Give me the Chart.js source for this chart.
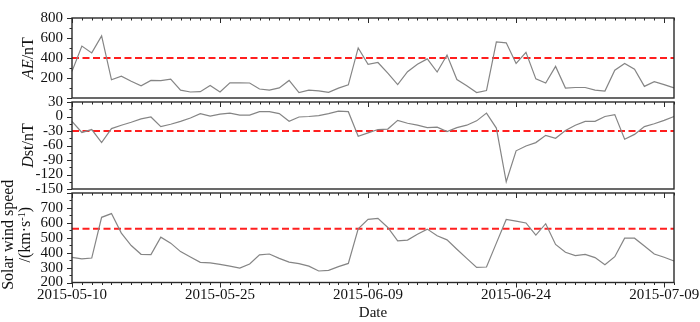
<!DOCTYPE html>
<html>
<head>
<meta charset="utf-8">
<script src="https://cdn.jsdelivr.net/npm/chart.js@4.4.0/dist/chart.umd.min.js"></script>
<style>
  html, body { margin: 0; padding: 0; background: #fff; }
  #wrap { position: relative; width: 700px; height: 322px; }
  canvas { position: absolute; left: 0; top: 0; }
</style>
</head>
<body>
<div id="wrap">
  <canvas id="c1" width="700" height="322"></canvas>
  <canvas id="c2" width="700" height="322"></canvas>
  <canvas id="c3" width="700" height="322"></canvas>
</div>
<script>
// ---------------- DATA ----------------
const dates = [
  '2015-05-10','2015-05-11','2015-05-12','2015-05-13','2015-05-14','2015-05-15','2015-05-16','2015-05-17',
  '2015-05-18','2015-05-19','2015-05-20','2015-05-21','2015-05-22','2015-05-23','2015-05-24','2015-05-25',
  '2015-05-26','2015-05-27','2015-05-28','2015-05-29','2015-05-30','2015-05-31',
  '2015-06-01','2015-06-02','2015-06-03','2015-06-04','2015-06-05','2015-06-06','2015-06-07','2015-06-08',
  '2015-06-09','2015-06-10','2015-06-11','2015-06-12','2015-06-13','2015-06-14','2015-06-15','2015-06-16',
  '2015-06-17','2015-06-18','2015-06-19','2015-06-20','2015-06-21','2015-06-22','2015-06-23','2015-06-24',
  '2015-06-25','2015-06-26','2015-06-27','2015-06-28','2015-06-29','2015-06-30',
  '2015-07-01','2015-07-02','2015-07-03','2015-07-04','2015-07-05','2015-07-06','2015-07-07','2015-07-08',
  '2015-07-09','2015-07-10'
];
const xTickLabels = ['2015-05-10','2015-05-25','2015-06-09','2015-06-24','2015-07-09'];

const aeValues = [266,519,451,621,182,218,167,122,176,173,188,78,60,63,125,60,152,152,150,90,78,101,176,54,78,72,57,99,131,501,
  337,355,248,134,263,337,391,260,430,185,122,54,75,561,552,346,457,191,149,316,99,105,105,78,69,278,346,287,116,164,134,101];
const dstValues = [-10,-33,-27,-54,-25,-18,-12,-5,-1,-21,-16,-10,-3,6,1,5,7,3,3,10,10,6,-10,-1,0,2,6,11,10,-41,
  -34,-27,-26,-8,-14,-18,-23,-22,-31,-23,-18,-9,7,-24,-135,-71,-61,-54,-39,-45,-29,-18,-10,-10,0,4,-47,-37,-21,-15,-8,0];
const windValues = [369,358,364,637,662,531,448,389,387,504,464,407,371,335,331,322,310,297,324,385,391,362,337,326,310,277,281,306,328,560,
  623,630,569,479,484,524,558,513,486,423,362,301,304,464,623,612,599,518,594,455,403,380,389,367,319,373,497,497,445,391,369,344];

const aeThreshold = 400;
const dstThreshold = -30;
const windThreshold = 560;

const aeTicks = [200, 400, 600, 800];
const dstTicks = [30, 0, -30, -60, -90, -120, -150];
const windTicks = [200, 300, 400, 500, 600, 700];

// ---------------- STYLE ----------------
const FONT = '"Liberation Serif", "Times New Roman", serif';
const LINE_COLOR = '#858585';
const RED = '#ff1f1f';
const FRAME = '#2a2a2a';

const decoPlugin = {
  id: 'deco',
  afterDraw(chart, args, o) {
    const ctx = chart.ctx;
    const { left, right, top, bottom } = chart.chartArea;
    const xs = chart.scales.x, ys = chart.scales.y;
    ctx.save();
    ctx.strokeStyle = FRAME;
    ctx.lineWidth = 1;
    ctx.beginPath();
    for (let i = 0; i < dates.length; i++) {
      const px = Math.round(xs.getPixelForValue(i)) + 0.5;
      const len = (xTickLabels.indexOf(dates[i]) >= 0) ? 5 : 2.5;
      ctx.moveTo(px, top);
      ctx.lineTo(px, top + len);
      if (o.bottomTicks) {
        ctx.moveTo(px, bottom);
        ctx.lineTo(px, bottom + len);
      }
    }
    for (let v = o.min; v <= o.max + 1e-9; v += o.minor) {
      const py = Math.round(ys.getPixelForValue(v)) + 0.5;
      const major = Math.abs(v % o.major) < 1e-6;
      ctx.moveTo(left, py);
      ctx.lineTo(left - (major ? 5 : 2.5), py);
    }
    ctx.stroke();
    ctx.lineWidth = 1.4;
    ctx.strokeRect(left, top, right - left, bottom - top);
    const yc = (top + bottom) / 2 + (o.titleDy || 0);
    o.title.forEach((line, li) => {
      ctx.save();
      ctx.translate(o.titleX[li], yc);
      ctx.rotate(-Math.PI / 2);
      ctx.fillStyle = '#111';
      ctx.textBaseline = 'middle';
      ctx.textAlign = 'left';
      const fontFor = p => (p[1] === 'i' ? 'italic ' : '') + (p[1] === 's' ? '10px ' : '16px ') + FONT;
      let w = 0;
      line.forEach(p => { ctx.font = fontFor(p); w += ctx.measureText(p[0]).width; });
      let x = -w / 2;
      line.forEach(p => {
        ctx.font = fontFor(p);
        ctx.fillText(p[0], x, p[1] === 's' ? -4 : 0);
        x += ctx.measureText(p[0]).width;
      });
      ctx.restore();
    });
    ctx.restore();
  }
};

function makeChart(id, values, threshold, yMin, yMax, tickList, showX, deco, target) {
  const lastLabel = dates[dates.length - 1];
  const xScale = {
    type: 'category',
    display: showX,
    offset: false,
    grid: { display: false, drawTicks: false },
    border: { display: false },
    ticks: {
      autoSkip: false,
      maxRotation: 0,
      minRotation: 0,
      padding: 4,
      color: '#111',
      font: { family: FONT, size: 15 },
      callback: function (val, idx) {
        const lab = dates[idx];
        return xTickLabels.indexOf(lab) >= 0 ? lab : '';
      }
    },
    title: {
      display: showX,
      text: 'Date',
      color: '#111',
      font: { family: FONT, size: 15 },
      padding: { top: -2, bottom: 0 }
    }
  };
  if (showX) xScale.afterFit = s => { s.height = 39.5; };
  const chart = new Chart(document.getElementById(id), {
    type: 'line',
    data: {
      labels: dates,
      datasets: [
        { data: values, borderColor: LINE_COLOR, borderWidth: 1.2, pointRadius: 0, tension: 0, fill: false },
        {
          data: [{ x: dates[0], y: threshold }, { x: lastLabel, y: threshold }],
          borderColor: RED, borderWidth: 2, borderDash: [7, 3.5], pointRadius: 0, fill: false
        }
      ]
    },
    options: {
      responsive: false,
      animation: false,
      devicePixelRatio: 1,
      layout: { padding: { left: 0, right: 26, top: target.top, bottom: showX ? 0 : 322 - target.bottom } },
      plugins: { legend: { display: false }, tooltip: { enabled: false }, deco: deco },
      scales: {
        x: xScale,
        y: {
          min: yMin,
          max: yMax,
          grid: { display: false, drawTicks: false },
          border: { display: false },
          afterBuildTicks: s => { s.ticks = tickList.map(v => ({ value: v })); },
          ticks: { autoSkip: false, padding: 9, color: '#111', font: { family: FONT, size: 15 } },
          afterFit: s => { s.width = 72; }
        }
      }
    },
    plugins: [decoPlugin]
  });
  for (let k = 0; k < 4; k++) {
    const a = chart.chartArea;
    const p = chart.options.layout.padding;
    const dt = target.top - a.top;
    const db = a.bottom - target.bottom;
    const dr = a.right - target.right;
    if (Math.abs(dt) < 0.2 && Math.abs(db) < 0.2 && Math.abs(dr) < 0.2) break;
    p.top = Math.max(0, p.top + dt);
    p.bottom = Math.max(0, p.bottom + db);
    p.right = Math.max(0, p.right + dr);
    chart.update();
  }
  return chart;
}

makeChart('c1', aeValues, aeThreshold, 0, 800, aeTicks, false,
  { min: 0, max: 800, minor: 100, major: 200, title: [[['AE', 'i'], ['/nT', 'n']]], titleX: [29] },
  { top: 9, bottom: 98, right: 674 });

makeChart('c2', dstValues, dstThreshold, -150, 30, dstTicks, false,
  { min: -150, max: 30, minor: 15, major: 30, title: [[['D', 'i'], ['st/nT', 'n']]], titleX: [29] },
  { top: 102, bottom: 189, right: 674 });

makeChart('c3', windValues, windThreshold, 200, 800, windTicks, true,
  { min: 200, max: 800, minor: 50, major: 100, bottomTicks: true,
    title: [[['Solar wind speed', 'n']], [['/(km·s', 'n'], ['-1', 's'], [')', 'n']]],
    titleX: [9, 26], titleDy: -3 },
  { top: 193, bottom: 282.5, right: 674 });
</script>
</body>
</html>
